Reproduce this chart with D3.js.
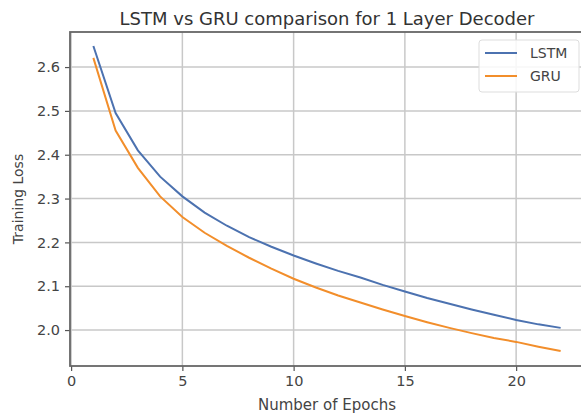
<!DOCTYPE html>
<html>
<head>
<meta charset="utf-8">
<script src="https://cdn.jsdelivr.net/npm/d3@7"></script>
<style>
  body { margin: 0; background: #fff; }
  svg { display: block; font-family: "DejaVu Sans", sans-serif; }
</style>
</head>
<body>
<div id="chart"></div>
<script>
// data
var epochs = [1, 2, 3, 4, 5, 6, 7, 8, 9, 10, 11, 12, 13, 14, 15, 16, 17, 18, 19, 20, 21, 22];
var lstmLoss = [2.648, 2.495, 2.41, 2.35, 2.305, 2.268, 2.238, 2.212, 2.19, 2.170, 2.152,
                2.135, 2.12, 2.103, 2.088, 2.073, 2.06, 2.047, 2.035, 2.023, 2.013, 2.005];
var gruLoss = [2.621, 2.455, 2.37, 2.305, 2.258, 2.222, 2.192, 2.165, 2.14, 2.117, 2.097,
               2.079, 2.063, 2.047, 2.032, 2.018, 2.005, 1.993, 1.982, 1.973, 1.962, 1.952];
var seriesNames = ["LSTM", "GRU"];
var xTicks = [0, 5, 10, 15, 20];
var yTicks = [2.0, 2.1, 2.2, 2.3, 2.4, 2.5, 2.6];

var width = 581, height = 416;
// plot box (the right edge runs a bit past the picture, as in the original)
var plotLeft = 70, plotRight = 584, plotTop = 32, plotBottom = 366;
var colors = ["#4c72b0", "#f28e2b"];

var svg = d3.select("#chart").append("svg")
    .attr("width", width)
    .attr("height", height);

var x = d3.scaleLinear().domain([-0.05, 23.05]).range([plotLeft, plotRight]);
var y = d3.scaleLinear().domain([1.918, 2.680]).range([plotBottom, plotTop]);

// grid
var grid = svg.append("g");
grid.selectAll("line.gx").data(xTicks).enter().append("line")
    .attr("x1", function(d) { return x(d); }).attr("x2", function(d) { return x(d); })
    .attr("y1", plotTop).attr("y2", plotBottom)
    .attr("stroke", "#c8c8c8").attr("stroke-width", 1.5);
grid.selectAll("line.gy").data(yTicks).enter().append("line")
    .attr("x1", plotLeft).attr("x2", plotRight)
    .attr("y1", function(d) { return y(d); }).attr("y2", function(d) { return y(d); })
    .attr("stroke", "#c8c8c8").attr("stroke-width", 1.5);

// axes
var xAxis = svg.append("g")
    .attr("transform", "translate(0," + plotBottom + ")")
    .call(d3.axisBottom(x).tickValues(xTicks).tickFormat(d3.format("d")).tickSize(5).tickPadding(5));
var yAxis = svg.append("g")
    .attr("transform", "translate(" + plotLeft + ",0)")
    .call(d3.axisLeft(y).tickValues(yTicks).tickFormat(d3.format(".1f")).tickSize(5).tickPadding(5));
[xAxis, yAxis].forEach(function(a) {
    a.select(".domain").remove();
    a.selectAll(".tick line").attr("stroke", "#555").attr("stroke-width", 1.2);
    a.selectAll(".tick text").attr("fill", "#444").style("font-size", "14.5px")
        .style("font-family", "DejaVu Sans, sans-serif");
});

// frame
svg.append("rect")
    .attr("x", plotLeft).attr("y", plotTop)
    .attr("width", plotRight - plotLeft).attr("height", plotBottom - plotTop)
    .attr("fill", "none").attr("stroke", "#666").attr("stroke-width", 1.8);

// lines
var line = d3.line()
    .x(function(d, i) { return x(epochs[i]); })
    .y(function(d) { return y(d); });
[lstmLoss, gruLoss].forEach(function(s, k) {
    svg.append("path")
        .datum(s)
        .attr("d", line)
        .attr("fill", "none")
        .attr("stroke", colors[k])
        .attr("stroke-width", 2);
});

// legend
var lg = svg.append("g");
lg.append("rect")
    .attr("x", 479).attr("y", 40).attr("width", 100).attr("height", 52).attr("rx", 3)
    .attr("fill", "#fff").attr("fill-opacity", 0.85)
    .attr("stroke", "#ddd").attr("stroke-width", 1);
seriesNames.forEach(function(n, i) {
    var yy = 53 + i * 23;
    lg.append("line")
        .attr("x1", 485).attr("x2", 517).attr("y1", yy).attr("y2", yy)
        .attr("stroke", colors[i]).attr("stroke-width", 2);
    lg.append("text")
        .attr("x", 530).attr("y", yy + 5)
        .attr("fill", "#444").style("font-size", "14px")
        .text(n);
});

// title and labels
svg.append("text")
    .attr("x", (plotLeft + plotRight) / 2).attr("y", 25)
    .attr("text-anchor", "middle")
    .attr("fill", "#333").style("font-size", "18px")
    .text("LSTM vs GRU comparison for 1 Layer Decoder");
svg.append("text")
    .attr("x", (plotLeft + plotRight) / 2).attr("y", 410)
    .attr("text-anchor", "middle")
    .attr("fill", "#444").style("font-size", "15px")
    .text("Number of Epochs");
svg.append("text")
    .attr("transform", "translate(23," + ((plotTop + plotBottom) / 2) + ") rotate(-90)")
    .attr("text-anchor", "middle")
    .attr("fill", "#444").style("font-size", "14px")
    .text("Training Loss");
</script>
</body>
</html>
